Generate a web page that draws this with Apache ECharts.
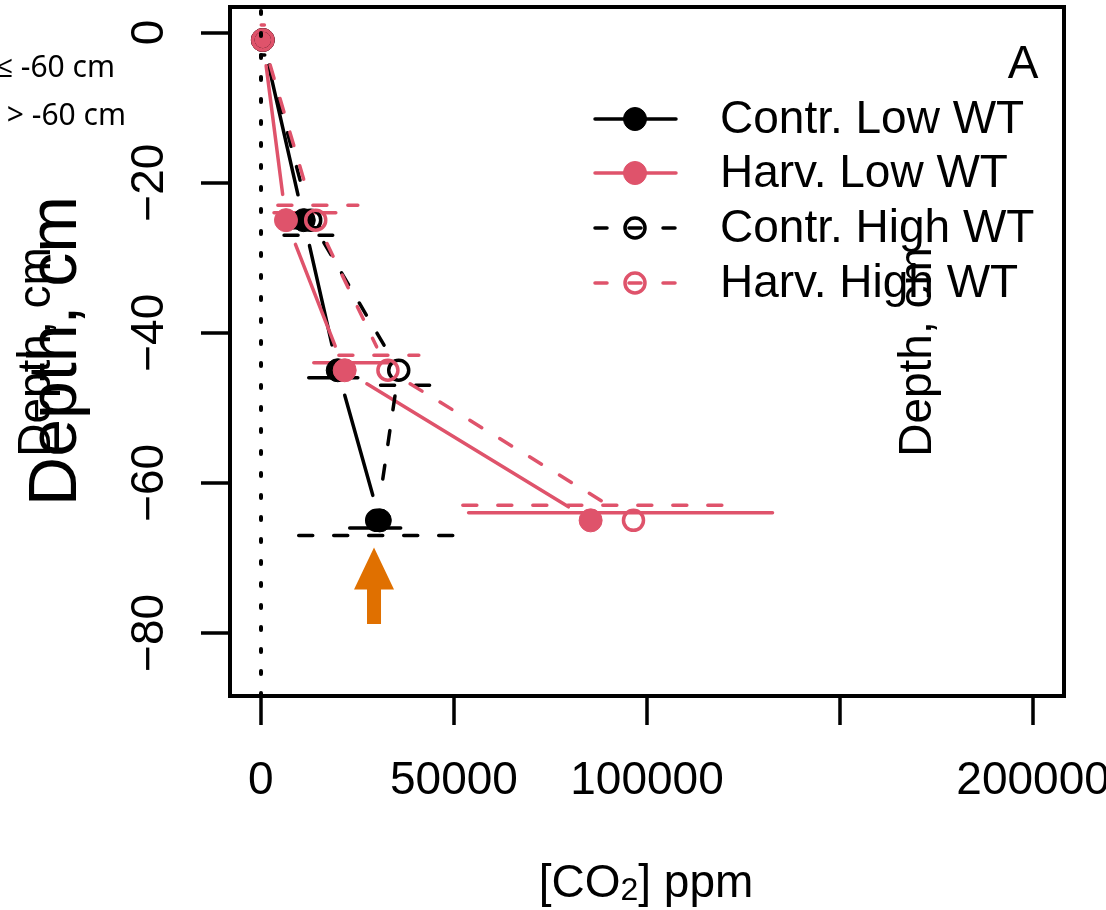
<!DOCTYPE html>
<html><head><meta charset="utf-8">
<script src="https://cdn.jsdelivr.net/npm/echarts@6/dist/echarts.min.js"></script>
<style>html,body{margin:0;padding:0;background:#fff}#c{width:1106px;height:910px}</style>
</head><body><div id="c"></div>
<script>
// ---- data ----
const depths = [-1, -25, -45, -65];
const contrLow  = [500, 11100, 19900, 30800];
const harvLow   = [500, 6500, 21700, 85400];
const contrHigh = [500, 12900, 35700, 30000];
const harvHigh  = [500, 14200, 32900, 96500];
const contrLowLo  = [0, 6000, 12400, 23000];
const contrLowHi  = [1000, 15500, 25100, 36200];
const harvLowLo   = [0, 3400, 13700, 53800];
const harvLowHi   = [1000, 19400, 34400, 132500];
const contrHighLo = [0, 6000, 31000, 9800];
const contrHighHi = [1000, 18600, 44200, 50200];
const harvHighLo  = [100, 4400, 20200, 52300];
const harvHighHi  = [900, 25100, 40900, 123000];
const barOffset = { contrLow: -1, harvLow: 1, contrHigh: -2, harvHigh: 2 };
const arrowX = 29300, arrowTip = -68.6, arrowBase = -78.8;
const xTicks = [0, 50000, 100000, 150000, 200000];
const xTickLabels = ['0', '50000', '100000', '', '200000'];
const yTicks = [0, -20, -40, -60, -80];
const yTickLabels = ['0', '\u221220', '\u221240', '\u221260', '\u221280'];
const legendNames = ['Contr. Low WT', 'Harv. Low WT', 'Contr. High WT', 'Harv. High WT'];

const RED = '#DF536B', BLACK = '#000000', ORANGE = '#E07000';
const LW = 3.5, GAP = 26, DASH = [14, 21];
const FONT = '"Liberation Sans", Arial, Helvetica, sans-serif';

function gapLine(xs, color, dash) {
  const data = [];
  for (let i = 0; i < xs.length - 1; i++) data.push([xs[i], depths[i], xs[i + 1], depths[i + 1]]);
  return {
    type: 'custom', coordinateSystem: 'cartesian2d', silent: true, data,
    encode: { x: [0, 2], y: [1, 3] },
    renderItem(params, api) {
      const a = api.coord([api.value(0), api.value(1)]);
      const b = api.coord([api.value(2), api.value(3)]);
      const dx = b[0] - a[0], dy = b[1] - a[1], L = Math.hypot(dx, dy);
      if (L <= 2 * GAP) return null;
      const ux = dx / L, uy = dy / L;
      return { type: 'line', shape: { x1: a[0] + ux * GAP, y1: a[1] + uy * GAP, x2: b[0] - ux * GAP, y2: b[1] - uy * GAP },
        style: { stroke: color, lineWidth: LW, lineDash: dash, lineCap: 'round', fill: null } };
    }
  };
}
function errBars(lo, hi, off, color, dash) {
  const data = lo.map((v, i) => [v, hi[i], depths[i] + off]);
  return {
    type: 'custom', coordinateSystem: 'cartesian2d', silent: true, data,
    encode: { x: [0, 1], y: 2 },
    renderItem(params, api) {
      const a = api.coord([api.value(0), api.value(2)]);
      const b = api.coord([api.value(1), api.value(2)]);
      return { type: 'line', shape: { x1: a[0], y1: a[1], x2: b[0], y2: b[1] },
        style: { stroke: color, lineWidth: LW, lineDash: dash, lineCap: 'round', fill: null } };
    }
  };
}
function points(xs, color, filled) {
  return {
    type: 'scatter', silent: true, data: xs.map((x, i) => [x, depths[i]]),
    symbol: 'circle', symbolSize: filled ? 23 : 20,
    itemStyle: filled ? { color: color, borderColor: color, borderWidth: 1, opacity: 1 }
                      : { color: 'rgba(0,0,0,0)', borderColor: color, borderWidth: 3.5, opacity: 1 }
  };
}

const series = [
  errBars(contrLowLo, contrLowHi, barOffset.contrLow, BLACK, null),
  errBars(harvLowLo, harvLowHi, barOffset.harvLow, RED, null),
  errBars(contrHighLo, contrHighHi, barOffset.contrHigh, BLACK, DASH),
  errBars(harvHighLo, harvHighHi, barOffset.harvHigh, RED, DASH),
  gapLine(contrLow, BLACK, null),
  gapLine(harvLow, RED, null),
  gapLine(contrHigh, BLACK, DASH),
  gapLine(harvHigh, RED, DASH),
  points(contrLow, BLACK, true),
  points(harvLow, RED, true),
  points(contrHigh, BLACK, false),
  points(harvHigh, RED, false),
  {
    type: 'custom', coordinateSystem: 'cartesian2d', silent: true,
    data: [[arrowX, arrowTip, arrowBase]], encode: { x: 0, y: [1, 2] },
    renderItem(params, api) {
      const t = api.coord([api.value(0), api.value(1)]);
      const b = api.coord([api.value(0), api.value(2)]);
      const hl = 42, hw = 20, sw = 7;
      const x = t[0];
      return { type: 'polygon', shape: { points: [
        [x, t[1]], [x + hw, t[1] + hl], [x + sw, t[1] + hl], [x + sw, b[1]],
        [x - sw, b[1]], [x - sw, t[1] + hl], [x - hw, t[1] + hl]] },
        style: { fill: ORANGE, stroke: null } };
    }
  },
  {
    type: 'scatter', silent: true, data: [], symbolSize: 0,
    markLine: { silent: true, symbol: 'none', animation: false, label: { show: false },
      lineStyle: { color: BLACK, width: 4, type: [3, 19], cap: 'round' },
      data: [{ xAxis: 0 }] }
  }
];

// legend (drawn like the R legend)
const legendRows = [119, 173, 228, 283];
const legendStyles = [
  { color: BLACK, filled: true, dash: null },
  { color: RED, filled: true, dash: null },
  { color: BLACK, filled: false, dash: [12, 22] },
  { color: RED, filled: false, dash: [12, 22] }
];
const graphic = [];
legendNames.forEach((name, i) => {
  const y = legendRows[i], s = legendStyles[i];
  graphic.push({ type: 'line', shape: { x1: 595, y1: y, x2: 676, y2: y },
    style: { stroke: s.color, lineWidth: LW, lineDash: s.dash, lineCap: 'round' }, silent: true });
  graphic.push({ type: 'circle', shape: { cx: 635, cy: y, r: s.filled ? 11.5 : 10 },
    style: s.filled ? { fill: s.color, stroke: s.color, lineWidth: 1 } : { fill: null, stroke: s.color, lineWidth: 3.5 }, silent: true });
  graphic.push({ type: 'text', x: 720, y: y + 1, silent: true,
    style: { text: name, fontFamily: FONT, fontSize: 46, fill: BLACK, textAlign: 'left', textVerticalAlign: 'middle' } });
});
graphic.push({ type: 'text', x: 1023, y: 65, silent: true,
  style: { text: 'A', fontFamily: FONT, fontSize: 46, fill: BLACK, textAlign: 'center', textVerticalAlign: 'middle' } });
graphic.push({ type: 'text', x: 646, y: 884, silent: true,
  style: { text: '[CO{sub|2}] ppm', fontFamily: FONT, fontSize: 46, fill: BLACK, textAlign: 'center', textVerticalAlign: 'middle',
    rich: { sub: { fontFamily: FONT, fontSize: 32, fill: BLACK, verticalAlign: 'bottom', lineHeight: 24 } } } });
graphic.push({ type: 'text', x: 57, y: 351, rotation: Math.PI / 2, silent: true,
  style: { text: 'Depth, cm', fontFamily: FONT, fontSize: 68, fill: BLACK, textAlign: 'center', textVerticalAlign: 'middle' } });
graphic.push({ type: 'text', x: 37, y: 352, rotation: Math.PI / 2, silent: true,
  style: { text: 'Depth, cm', fontFamily: FONT, fontSize: 46, fill: BLACK, textAlign: 'center', textVerticalAlign: 'middle' } });
graphic.push({ type: 'text', x: 918, y: 352, rotation: Math.PI / 2, silent: true,
  style: { text: 'Depth, cm', fontFamily: FONT, fontSize: 46, fill: BLACK, textAlign: 'center', textVerticalAlign: 'middle' } });
graphic.push({ type: 'text', x: 115, y: 68, silent: true,
  style: { text: '\u2264 -60 cm', fontFamily: '"Noto Sans", "Open Sans", sans-serif', fontSize: 30, fill: BLACK, textAlign: 'right', textVerticalAlign: 'middle' } });
graphic.push({ type: 'text', x: 126, y: 116, silent: true,
  style: { text: '> -60 cm', fontFamily: '"Noto Sans", "Open Sans", sans-serif', fontSize: 30, fill: BLACK, textAlign: 'right', textVerticalAlign: 'middle' } });

const chart = echarts.init(document.getElementById('c'), null, { renderer: 'canvas' });
chart.setOption({
  animation: false,
  backgroundColor: '#fff',
  grid: { left: 230, right: 42, top: 7, bottom: 214, show: true, borderColor: BLACK, borderWidth: 4,
    containLabel: false, outerBoundsMode: 'none' },
  xAxis: {
    type: 'value', min: -8000, max: 208000, position: 'bottom',
    splitLine: { show: false }, axisLine: { show: false, onZero: false },
    axisTick: { show: true, length: 29, inside: false, customValues: xTicks, lineStyle: { color: BLACK, width: 3.5 } },
    axisLabel: { show: true, customValues: xTicks, margin: 62, fontFamily: FONT, fontSize: 46, color: BLACK,
      hideOverlap: false, showMinLabel: true, showMaxLabel: true,
      formatter: v => { const i = xTicks.indexOf(v); return i >= 0 ? xTickLabels[i] : ''; } }
  },
  yAxis: {
    type: 'value', min: -88.4, max: 3.4, position: 'left',
    splitLine: { show: false }, axisLine: { show: false, onZero: false },
    axisTick: { show: true, length: 29, inside: false, customValues: yTicks, lineStyle: { color: BLACK, width: 3.5 } },
    axisLabel: { show: true, customValues: yTicks, rotate: 90, margin: 57, fontFamily: FONT, fontSize: 46, color: BLACK,
      hideOverlap: false, showMinLabel: true, showMaxLabel: true,
      formatter: v => { const i = yTicks.indexOf(v); return i >= 0 ? yTickLabels[i] : ''; } }
  },
  series,
  graphic
});
</script>
</body></html>
